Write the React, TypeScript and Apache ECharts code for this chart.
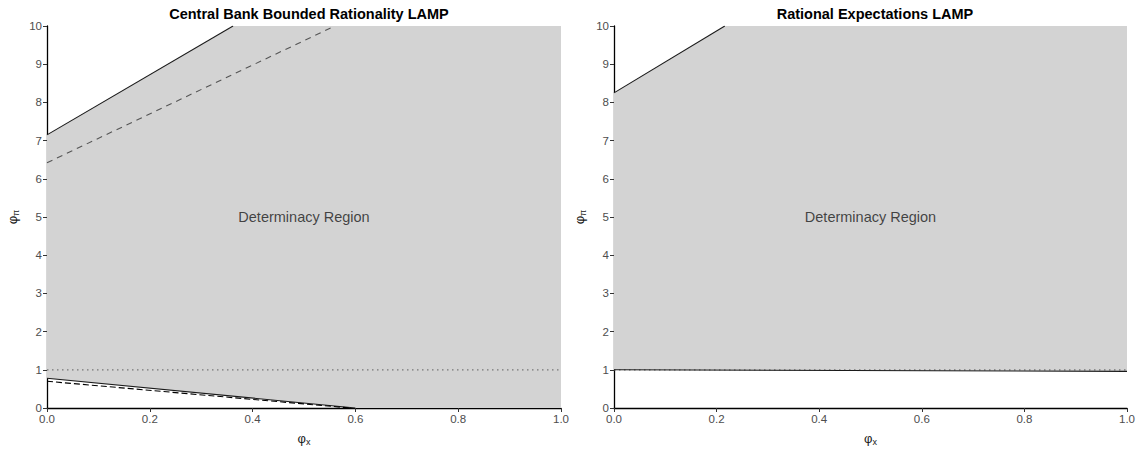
import React, { useEffect, useRef } from "react";
import * as echarts from "echarts";

const titles = ["Central Bank Bounded Rationality LAMP", "Rational Expectations LAMP"];
const regionLabel = "Determinacy Region";
const regionLabelPos = [0.5, 5];

// Left panel
const leftUpperSolid = [[0, 7.15], [0.362, 10]];
const leftUpperDashed = [[0, 6.42], [0.56, 10]];
const leftLowerSolid = [[0, 0.78], [0.6, 0]];
const leftLowerDashed = [[0, 0.7], [0.59, 0]];
const leftDotted = [[0, 1], [1, 1]];
const leftRegionTop = [[0, 7.15], [0.362, 10], [1, 10]];
const leftRegionBottom = [[1, 0], [0.6, 0], [0, 0.78]];

// Right panel
const rightUpperSolid = [[0, 8.25], [0.216, 10]];
const rightLowerSolid = [[0, 1.0], [1, 0.96]];
const rightDotted = [[0, 1], [1, 1]];
const rightRegionTop = [[0, 8.25], [0.216, 10], [1, 10]];
const rightRegionBottom = [[1, 0.96], [0, 1.0]];

const FONT = "Liberation Sans";

function regionSeries(idx: number, top: number[][], bottom: number[][]) {
  const pts = top.concat(bottom);
  return {
    type: "custom",
    xAxisIndex: idx,
    yAxisIndex: idx,
    data: [[0, 0]],
    silent: true,
    z: 1,
    renderItem: (params: any, api: any) => ({
      type: "polygon",
      shape: { points: pts.map((p) => api.coord(p)) },
      style: { fill: "#d3d3d3", stroke: "none" },
    }),
  };
}

function lineSeries(idx: number, data: number[][], color: string, type: any, width = 1.1) {
  return {
    type: "line",
    xAxisIndex: idx,
    yAxisIndex: idx,
    data,
    symbol: "none",
    z: 3,
    lineStyle: { color, type, width },
  };
}

function labelSeries(idx: number) {
  return {
    type: "scatter",
    xAxisIndex: idx,
    yAxisIndex: idx,
    data: [regionLabelPos],
    symbolSize: 1,
    z: 4,
    itemStyle: { color: "rgba(0,0,0,0)" },
    label: {
      show: true,
      position: "inside",
      formatter: regionLabel,
      fontSize: 14.5,
      color: "#1a1a1a",
      fontFamily: FONT,
      textBorderWidth: 0,
    },
  };
}

const axisNameRich = {
  a: { fontSize: 13, color: "#1a1a1a", fontFamily: FONT },
  b: { fontSize: 9, color: "#1a1a1a", fontFamily: FONT, padding: [7, 0, 0, 0] },
};

function xAxis(idx: number) {
  return {
    type: "value",
    gridIndex: idx,
    min: 0,
    max: 1,
    interval: 0.2,
    name: "{a|φ}{b|x}",
    nameLocation: "middle",
    nameGap: 22,
    nameTextStyle: { rich: axisNameRich },
    axisLine: { show: true, onZero: false, lineStyle: { color: "#000", width: 1.3 } },
    axisTick: { show: true, length: 4, lineStyle: { color: "#333" } },
    axisLabel: {
      fontSize: 11.5,
      color: "#4d4d4d",
      fontFamily: FONT,
      margin: 5,
      formatter: (v: number) => v.toFixed(1),
    },
    splitLine: { show: false },
  };
}

function yAxis(idx: number) {
  return {
    type: "value",
    gridIndex: idx,
    min: 0,
    max: 10,
    interval: 1,
    name: "{a|φ}{b|π}",
    nameLocation: "middle",
    nameRotate: 90,
    nameGap: 27,
    nameTextStyle: { rich: axisNameRich },
    axisLine: { show: true, onZero: false, lineStyle: { color: "#000", width: 1.3 } },
    axisTick: { show: true, length: 4, lineStyle: { color: "#333" } },
    axisLabel: { fontSize: 11.5, color: "#4d4d4d", fontFamily: FONT, margin: 5 },
    splitLine: { show: false },
  };
}

export default function App() {
  const ref = useRef<HTMLDivElement>(null);
  useEffect(() => {
    if (!ref.current) return;
    const chart = echarts.init(ref.current, undefined, { renderer: "svg" });
    chart.setOption({
      animation: false,
      backgroundColor: "#ffffff",
      title: [
        {
          text: titles[0],
          left: 304,
          top: 1,
          textAlign: "center",
          textStyle: { fontSize: 14.5, fontWeight: "bold", color: "#000", fontFamily: FONT },
        },
        {
          text: titles[1],
          left: 870,
          top: 1,
          textAlign: "center",
          textStyle: { fontSize: 14.5, fontWeight: "bold", color: "#000", fontFamily: FONT },
        },
      ],
      grid: [
        { left: 47, top: 26, width: 514, height: 382, outerBoundsMode: "none", containLabel: false },
        { left: 614, top: 26, width: 513, height: 382, outerBoundsMode: "none", containLabel: false },
      ],
      xAxis: [xAxis(0), xAxis(1)],
      yAxis: [yAxis(0), yAxis(1)],
      series: [
        regionSeries(0, leftRegionTop, leftRegionBottom),
        lineSeries(0, leftDotted, "#777777", [1.5, 3.5], 1.2),
        lineSeries(0, leftUpperSolid, "#1a1a1a", "solid"),
        lineSeries(0, leftUpperDashed, "#555555", [6, 5]),
        lineSeries(0, leftLowerSolid, "#1a1a1a", "solid"),
        lineSeries(0, leftLowerDashed, "#000000", [6, 3]),
        labelSeries(0),
        regionSeries(1, rightRegionTop, rightRegionBottom),
        lineSeries(1, rightDotted, "#777777", [1.5, 3.5], 1.2),
        lineSeries(1, rightUpperSolid, "#1a1a1a", "solid"),
        lineSeries(1, rightLowerSolid, "#1a1a1a", "solid"),
        labelSeries(1),
      ],
    });
    return () => chart.dispose();
  }, []);
  return (
    <div
      ref={ref}
      style={{ position: "fixed", left: 0, top: 0, width: 1138, height: 449 }}
    />
  );
}
